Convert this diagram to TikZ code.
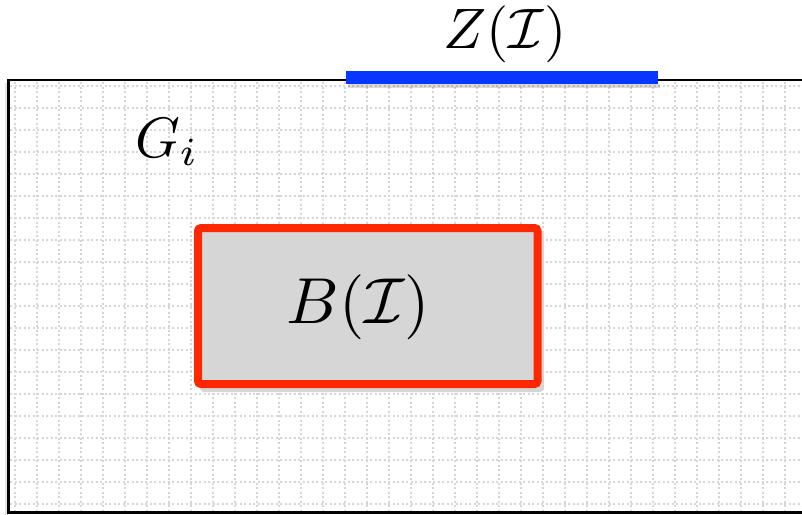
\documentclass[tikz,border=0pt]{standalone}
\definecolor{boxred}{RGB}{255,40,0}
\definecolor{zblue}{RGB}{5,55,255}
\definecolor{boxgray}{RGB}{214,214,214}
\begin{document}
\begin{tikzpicture}[x=1pt,y=-1pt,
  gridline/.style={draw=black!16, line width=2pt, dash pattern=on 2pt off 2.5pt},
  txt/.style={inner sep=0pt, anchor=base}]
\useasboundingbox (0,0) rectangle (802,514);
\clip (0,0) rectangle (802,514);
\fill[white] (0,0) rectangle (802,514);
% outer area shadow
\fill[black,opacity=0.10] (5,83) rectangle (8,516);
% red box fill and shadow
\fill[black,opacity=0.16,rounded corners=4pt] (200,231) rectangle (544,392);
\fill[boxgray, rounded corners=3pt] (198,228) rectangle (537.5,384);
% grid
\foreach \k in {0,...,36} \draw[gridline] (15+22*\k,82) -- (15+22*\k,512);
\foreach \k in {0,...,19} \draw[gridline] (10,86+22*\k) -- (806,86+22*\k);
% red box stroke
\draw[boxred, line width=8pt, rounded corners=3pt] (198,228) rectangle (537.5,384);
% outer frame
\draw[line width=2.4pt] (812,80) -| (8.5,512.5) -- (812,512.5);
% blue segment with shadow
\fill[black,opacity=0.14] (348,83.5) rectangle (660,88);
\fill[zblue] (346,71) rectangle (658,83.5);
% texts
\node[txt, scale=5.7] (z) at (505,48) {$Z(\mathcal{I})$};
\node[txt, scale=5.7] (g) at (167,157) {$G_i$};
\node[txt, scale=6.5] (b) at (358.5,323) {$B(\mathcal{I})$};
\end{tikzpicture}
\end{document}
